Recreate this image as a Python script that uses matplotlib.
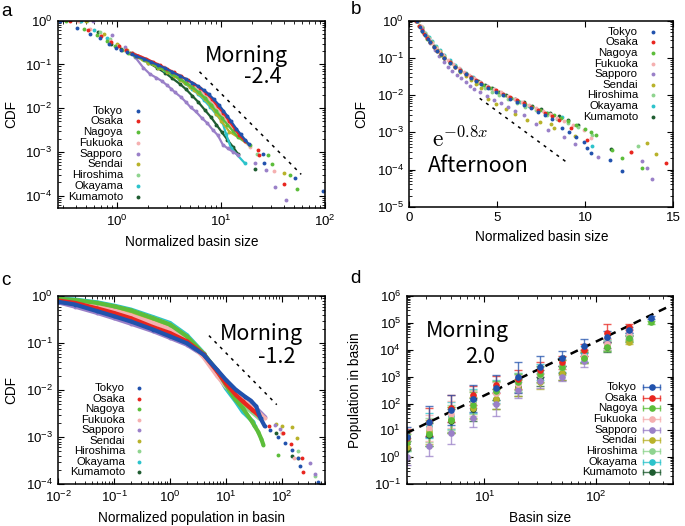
import numpy as np
import matplotlib
matplotlib.use('Agg')
import matplotlib.pyplot as plt
from matplotlib.colors import to_rgba
from matplotlib.ticker import LogLocator, NullFormatter

plt.rcParams['font.family'] = ['Liberation Sans', 'DejaVu Sans']
plt.rcParams['axes.linewidth'] = 1.1

cities = ['Tokyo', 'Osaka', 'Nagoya', 'Fukuoka', 'Sapporo', 'Sendai',
          'Hiroshima', 'Okayama', 'Kumamoto']
colors = ['#2152ad', '#e8261f', '#5cbd3a', '#f5b0b0', '#9a80c8', '#b8b22a',
          '#8fd48f', '#2cc3cb', '#1e5c30']

# ---- panel a : CDF of normalized basin size (morning) ----
tokyo_a_x = [0.28, 0.41, 0.55, 0.69, 0.83, 0.97, 1.1, 1.24, 1.38, 1.52, 1.8, 2.1, 2.5, 2.9, 3.4, 4.0, 4.6, 5.3, 6.0, 6.8, 7.6, 8.5, 9.5, 10.5, 11.5, 12.5, 14.0, 15.5, 17.0, 18.5, 25.3, 25.6, 51.0, 95.0]
tokyo_a_y = [1.0, 0.67, 0.50, 0.40, 0.30, 0.24, 0.21, 0.19, 0.17, 0.155, 0.135, 0.115, 0.096, 0.082, 0.067, 0.055, 0.046, 0.038, 0.032, 0.026, 0.021, 0.016, 0.012, 0.0088, 0.0066, 0.005, 0.0034, 0.0025, 0.0019, 0.0015, 8.9e-4, 5.6e-4, 2.5e-4, 1.26e-4]
osaka_a_x = [0.35, 0.53, 0.70, 0.88, 1.05, 1.23, 1.4, 1.6, 1.9, 2.2, 2.6, 3.0, 3.5, 4.1, 4.8, 5.5, 6.3, 7.2, 8.2, 9.3, 10.5, 12.0, 13.5, 15.0, 16.8, 22.6, 23.1, 40.1]
osaka_a_y = [1.0, 0.61, 0.44, 0.33, 0.26, 0.21, 0.18, 0.16, 0.135, 0.115, 0.095, 0.08, 0.066, 0.054, 0.044, 0.036, 0.029, 0.022, 0.016, 0.011, 0.0078, 0.005, 0.0034, 0.0024, 0.0018, 1.12e-3, 8.6e-4, 1.8e-4]
nagoya_a_x = [0.32, 0.48, 0.64, 0.80, 0.96, 1.12, 1.28, 1.5, 1.8, 2.1, 2.5, 2.9, 3.4, 4.0, 4.6, 5.3, 6.1, 7.0, 8.0, 9.0, 10.2, 11.5, 13.0, 14.5, 18.8, 28.3, 31.0, 46.5, 53.2]
nagoya_a_y = [1.0, 0.65, 0.47, 0.34, 0.26, 0.21, 0.18, 0.155, 0.128, 0.107, 0.088, 0.073, 0.059, 0.047, 0.038, 0.030, 0.023, 0.017, 0.012, 0.0085, 0.006, 0.0042, 0.003, 0.0022, 1.45e-3, 8.6e-4, 5.3e-4, 2.9e-4, 1.4e-4]
fukuoka_a_x = [0.42, 0.55, 0.70, 0.85, 1.0, 1.2, 1.4, 1.7, 2.0, 2.4, 2.8, 3.3, 3.9, 4.5, 5.2, 6.0, 6.9, 7.9, 9.0, 10.2, 11.5, 13.0, 15.0, 19.0, 32.0]
fukuoka_a_y = [1.0, 0.63, 0.45, 0.34, 0.27, 0.215, 0.18, 0.15, 0.125, 0.102, 0.086, 0.07, 0.057, 0.046, 0.037, 0.029, 0.022, 0.016, 0.011, 0.0075, 0.005, 0.0033, 0.0022, 1.3e-3, 3.7e-4]
sapporo_a_x = [0.59, 0.89, 1.18, 1.48, 1.78, 2.07, 2.37, 2.68, 3.0, 3.3, 3.6, 4.1, 4.6, 5.1, 5.7, 6.5, 7.4, 8.3, 9.3, 10.4, 11.6, 13.0, 14.5, 21.0, 27.2, 32.7, 42.5]
sapporo_a_y = [1.0, 0.47, 0.25, 0.15, 0.085, 0.06, 0.05, 0.042, 0.034, 0.028, 0.023, 0.018, 0.0137, 0.0104, 0.0084, 0.006, 0.0045, 0.0032, 0.0024, 0.00145, 0.0012, 0.001, 8.6e-4, 5.6e-4, 3.9e-4, 1.6e-4, 8.1e-5]
sendai_a_x = [0.50, 0.75, 1.0, 1.25, 1.5, 1.75, 2.0, 2.5, 3.0, 3.5, 4.0, 4.5, 5.0, 5.5, 6.0, 7.0, 8.0, 9.0, 10.0, 12.0, 16.8, 40.1]
sendai_a_y = [1.0, 0.5, 0.29, 0.21, 0.16, 0.13, 0.11, 0.085, 0.068, 0.055, 0.045, 0.037, 0.031, 0.026, 0.022, 0.016, 0.011, 0.0075, 0.0052, 0.0029, 1.74e-3, 3.2e-4]
hiroshima_a_x = [0.51, 0.68, 0.85, 1.02, 1.2, 1.4, 1.65, 1.9, 2.2, 2.6, 3.0, 3.5, 4.0, 4.6, 5.3, 6.1, 7.0, 8.0, 9.2, 10.5, 12.0, 14.0, 16.0, 22.0]
hiroshima_a_y = [1.0, 0.55, 0.38, 0.28, 0.22, 0.18, 0.15, 0.128, 0.108, 0.09, 0.074, 0.061, 0.05, 0.04, 0.032, 0.025, 0.019, 0.014, 0.0098, 0.0068, 0.0046, 0.003, 0.002, 9e-4]
okayama_a_x = [0.45, 0.6, 0.8, 1.0, 1.2, 1.45, 1.7, 2.0, 2.4, 2.8, 3.3, 3.9, 4.5, 5.2, 6.0, 6.9, 7.9, 9.0, 10.3, 11.2, 12.5, 16.8]
okayama_a_y = [1.0, 0.6, 0.4, 0.27, 0.21, 0.17, 0.14, 0.115, 0.093, 0.076, 0.06, 0.047, 0.037, 0.028, 0.021, 0.015, 0.0105, 0.0072, 0.0048, 0.0025, 0.0012, 5.6e-4]
kumamoto_a_x = [0.44, 0.66, 0.88, 1.1, 1.32, 1.54, 1.76, 2.0, 2.4, 2.9, 3.4, 4.0, 4.6, 5.3, 6.0, 7.0, 8.0, 9.0, 10.2, 11.5, 13.0, 14.5, 21.0]
kumamoto_a_y = [1.0, 0.56, 0.3, 0.22, 0.18, 0.15, 0.13, 0.11, 0.085, 0.064, 0.048, 0.036, 0.027, 0.019, 0.014, 0.009, 0.0062, 0.0042, 0.0028, 0.0019, 0.0013, 9e-4, 4.1e-4]
guide_a_x = [6.2, 59.0]
guide_a_y = [0.068, 3.05e-4]

# ---- panel b : CDF of normalized basin size (afternoon) ----
tokyo_b_x = [0.45, 0.6, 0.75, 0.9, 1.05, 1.2, 1.4, 1.6, 1.8, 2.0, 2.3, 2.6, 2.9, 3.2, 3.5, 3.8, 4.1, 4.5, 4.9, 5.3, 5.7, 6.1, 6.5, 6.9, 7.3, 7.7, 8.1, 8.7, 9.1, 9.5, 9.94, 10.1, 10.3, 11.4, 12.1]
tokyo_b_y = [1.0, 0.68, 0.52, 0.41, 0.32, 0.26, 0.2, 0.155, 0.124, 0.099, 0.075, 0.057, 0.045, 0.036, 0.029, 0.024, 0.02, 0.0158, 0.0125, 0.01, 0.0081, 0.0066, 0.0054, 0.0044, 0.0036, 0.0029, 0.0023, 0.0013, 0.00104, 7.5e-4, 5.6e-4, 3.7e-4, 2.7e-4, 1.8e-4, 9e-5]
osaka_b_x = [0.4, 0.55, 0.7, 0.85, 1.0, 1.2, 1.4, 1.6, 1.8, 2.0, 2.3, 2.6, 2.9, 3.2, 3.5, 3.8, 4.1, 4.5, 4.9, 5.3, 5.7, 6.1, 6.5, 6.9, 7.3, 7.7, 8.1, 8.5, 9.2, 10.1, 12.6, 14.6]
osaka_b_y = [1.0, 0.72, 0.55, 0.43, 0.34, 0.26, 0.2, 0.155, 0.125, 0.1, 0.076, 0.058, 0.046, 0.037, 0.03, 0.025, 0.021, 0.017, 0.0135, 0.011, 0.0088, 0.0073, 0.006, 0.0048, 0.0041, 0.0033, 0.0027, 0.0022, 0.0013, 6.3e-4, 3.0e-4, 1.5e-4]
nagoya_b_x = [0.42, 0.57, 0.72, 0.87, 1.02, 1.2, 1.4, 1.6, 1.8, 2.0, 2.3, 2.6, 2.9, 3.2, 3.5, 3.8, 4.2, 4.6, 5.0, 5.4, 5.8, 6.2, 6.6, 7.0, 7.4, 7.8, 8.2, 8.6, 9.0, 9.5, 10.0, 10.3, 10.6, 11.5, 12.1, 13.25]
nagoya_b_y = [1.0, 0.7, 0.54, 0.42, 0.33, 0.26, 0.2, 0.154, 0.123, 0.099, 0.075, 0.057, 0.045, 0.036, 0.029, 0.024, 0.019, 0.0155, 0.0125, 0.0102, 0.0084, 0.007, 0.0058, 0.0048, 0.004, 0.0034, 0.0029, 0.0024, 0.002, 0.0016, 0.00125, 0.001, 8.5e-4, 3.4e-4, 2.1e-4, 1.07e-4]
fukuoka_b_x = [0.5, 0.65, 0.8, 0.95, 1.1, 1.3, 1.5, 1.7, 1.9, 2.2, 2.5, 2.8, 3.1, 3.4, 3.7, 4.0, 4.4, 4.8, 5.2, 5.6, 6.0, 6.4, 6.8, 7.2, 7.6, 8.0, 8.4, 8.8, 9.3, 9.9, 10.3, 12.6]
fukuoka_b_y = [1.0, 0.7, 0.53, 0.42, 0.33, 0.25, 0.19, 0.15, 0.12, 0.088, 0.067, 0.052, 0.042, 0.034, 0.028, 0.023, 0.018, 0.0145, 0.0118, 0.0096, 0.008, 0.0066, 0.0055, 0.0046, 0.0038, 0.0031, 0.0025, 0.002, 0.0016, 0.00115, 7e-4, 3e-4]
sapporo_b_x = [0.45, 0.7, 0.95, 1.2, 1.45, 1.7, 1.95, 2.2, 2.45, 2.7, 2.95, 3.2, 3.45, 3.7, 4.0, 4.4, 4.8, 5.2, 5.6, 6.0, 6.5, 7.2, 7.87, 8.8, 9.4, 10.7, 13.2, 13.5, 13.8]
sapporo_b_y = [1.0, 0.6, 0.38, 0.25, 0.16, 0.11, 0.08, 0.058, 0.045, 0.035, 0.028, 0.022, 0.018, 0.015, 0.012, 0.0095, 0.0075, 0.006, 0.0048, 0.0038, 0.003, 0.0017, 0.00115, 7.6e-4, 5e-4, 2.2e-4, 1.7e-4, 1.1e-4, 5.5e-5]
sendai_b_x = [0.5, 0.75, 1.0, 1.25, 1.5, 1.75, 2.0, 2.3, 2.6, 2.9, 3.2, 3.5, 3.8, 4.1, 4.5, 4.94, 5.5, 6.0, 6.7, 7.4, 8.06, 8.25, 9.4, 13.5, 14.0]
sendai_b_y = [1.0, 0.62, 0.4, 0.27, 0.19, 0.14, 0.105, 0.077, 0.057, 0.043, 0.033, 0.026, 0.02, 0.0155, 0.0078, 0.0056, 0.0042, 0.0031, 0.0022, 0.0019, 0.0017, 0.0013, 8e-4, 5.2e-4, 2.6e-4]
hiroshima_b_x = [0.5, 0.7, 0.9, 1.1, 1.3, 1.5, 1.75, 2.0, 2.3, 2.6, 2.9, 3.2, 3.5, 3.9, 4.3, 4.7, 5.1, 5.6, 6.1, 6.6, 7.2, 7.8, 8.4, 9.0, 9.6, 10.4, 13.0]
hiroshima_b_y = [1.0, 0.66, 0.47, 0.35, 0.27, 0.2, 0.15, 0.11, 0.08, 0.06, 0.046, 0.036, 0.028, 0.021, 0.016, 0.0125, 0.01, 0.0078, 0.0062, 0.0049, 0.0039, 0.003, 0.0023, 0.0018, 0.0014, 8.5e-4, 4.3e-4]
okayama_b_x = [0.5, 0.7, 0.9, 1.1, 1.3, 1.5, 1.75, 2.0, 2.3, 2.6, 2.9, 3.2, 3.6, 4.0, 4.4, 4.8, 5.3, 5.8, 6.3, 6.8, 7.3, 7.8, 8.7, 10.4]
okayama_b_y = [1.0, 0.68, 0.48, 0.36, 0.28, 0.21, 0.16, 0.12, 0.088, 0.066, 0.051, 0.04, 0.03, 0.023, 0.018, 0.0145, 0.011, 0.0085, 0.0066, 0.0052, 0.0041, 0.0033, 0.0026, 4.3e-4]
kumamoto_b_x = [0.4, 0.6, 0.8, 1.0, 1.2, 1.4, 1.6, 1.8, 2.0, 2.3, 2.6, 2.9, 3.2, 3.5, 3.9, 4.3, 4.7, 5.1, 5.5, 6.0, 6.5, 7.0, 7.5, 8.0, 8.5, 9.0, 9.6, 11.45]
kumamoto_b_y = [1.0, 0.7, 0.5, 0.36, 0.27, 0.21, 0.16, 0.128, 0.102, 0.077, 0.059, 0.047, 0.037, 0.03, 0.024, 0.019, 0.0155, 0.0125, 0.0102, 0.008, 0.0064, 0.0052, 0.0042, 0.0034, 0.0028, 0.0022, 0.0016, 3.5e-4]
guide_b_x = [4.0, 9.0]
guide_b_y = [0.0082, 1.5e-4]

# ---- panel c : CDF of normalized population in basin ----
tokyo_c_x = [0.01, 0.02, 0.05, 0.1, 0.2, 0.5, 1.0, 2.0, 4.0, 7.0, 10.0, 15.0, 22.0, 28.0, 35.0, 42.0, 50.0, 61.5, 87.0, 115.0, 152.0, 200.0, 214.0, 456.0]
tokyo_c_y = [0.76, 0.665, 0.48, 0.375, 0.29, 0.195, 0.14, 0.1, 0.057, 0.027, 0.0167, 0.0103, 0.0073, 0.006, 0.0045, 0.0025, 0.0017, 0.0014, 0.001, 7.4e-4, 5.3e-4, 3.5e-4, 2.4e-4, 1.1e-4]
osaka_c_x = [0.01, 0.02, 0.05, 0.1, 0.2, 0.5, 1.0, 2.0, 4.0, 7.0, 10.0, 15.0, 20.0, 30.0, 40.0, 60.0, 107.0, 150.0, 230.0, 245.0]
osaka_c_y = [0.81, 0.72, 0.55, 0.44, 0.34, 0.22, 0.165, 0.11, 0.058, 0.025, 0.014, 0.008, 0.0058, 0.0038, 0.0028, 0.0017, 0.0012, 7e-4, 3.6e-4, 1.8e-4]
nagoya_c_x = [0.01, 0.02, 0.05, 0.1, 0.2, 0.5, 1.0, 2.0, 4.0, 7.0, 10.0, 14.6, 20.0, 29.0, 38.0, 43.5, 47.0, 87.0]
nagoya_c_y = [0.88, 0.83, 0.72, 0.61, 0.5, 0.34, 0.25, 0.14, 0.06, 0.026, 0.013, 0.0065, 0.0042, 0.0022, 0.0013, 9e-4, 6.9e-4, 4.2e-4]
fukuoka_c_x = [0.01, 0.02, 0.05, 0.1, 0.2, 0.5, 1.0, 2.0, 4.0, 7.0, 10.0, 15.0, 20.0, 30.0, 50.0, 100.0, 170.0]
fukuoka_c_y = [0.85, 0.76, 0.61, 0.5, 0.39, 0.27, 0.2, 0.12, 0.05, 0.02, 0.012, 0.0085, 0.0065, 0.0045, 0.0025, 0.0012, 3.6e-4]
sapporo_c_x = [0.01, 0.02, 0.05, 0.1, 0.2, 0.5, 1.0, 2.0, 4.0, 7.0, 10.0, 15.0, 20.0, 30.0, 50.0, 76.0, 93.0, 320.0, 400.0]
sapporo_c_y = [0.74, 0.6, 0.44, 0.34, 0.26, 0.18, 0.13, 0.093, 0.055, 0.027, 0.0155, 0.0098, 0.0075, 0.005, 0.0027, 0.0018, 0.0015, 2.8e-4, 1.6e-4]
sendai_c_x = [0.01, 0.02, 0.05, 0.1, 0.2, 0.5, 1.0, 2.0, 4.0, 10.0, 20.0, 40.0, 80.0, 100.0, 152.0, 187.0, 200.0]
sendai_c_y = [0.86, 0.78, 0.66, 0.58, 0.47, 0.32, 0.24, 0.13, 0.058, 0.013, 0.0055, 0.003, 0.0019, 0.0017, 0.0016, 9.5e-4, 3.6e-4]
hiroshima_c_x = [0.01, 0.02, 0.05, 0.1, 0.2, 0.5, 1.0, 2.0, 4.0, 10.0, 20.0, 40.0, 100.0, 200.0, 400.0]
hiroshima_c_y = [0.87, 0.81, 0.7, 0.6, 0.49, 0.34, 0.25, 0.14, 0.06, 0.012, 0.005, 0.0025, 0.0012, 5e-4, 1.5e-4]
okayama_c_x = [0.01, 0.02, 0.05, 0.1, 0.2, 0.5, 1.0, 2.0, 4.0, 7.0, 10.0, 15.0, 20.0, 31.0, 33.0]
okayama_c_y = [0.9, 0.85, 0.74, 0.63, 0.52, 0.36, 0.27, 0.15, 0.062, 0.023, 0.011, 0.0058, 0.0035, 0.0021, 0.0017]
kumamoto_c_x = [0.01, 0.02, 0.05, 0.1, 0.2, 0.5, 1.0, 2.0, 4.0, 10.0, 20.0, 40.0, 80.0, 152.0]
kumamoto_c_y = [0.84, 0.76, 0.64, 0.55, 0.44, 0.3, 0.22, 0.125, 0.057, 0.013, 0.006, 0.003, 0.0012, 4e-4]
guide_c_x = [5.0, 82.0]
guide_c_y = [0.145, 0.0049]

# ---- panel d : population vs basin size (y value and spread factor) ----
size_d = [2.0, 3.16, 5.01, 7.94, 12.6, 20.0, 31.6, 50.1, 79.4, 126.0, 200.0, 316.0]
tokyo_d_y = [5.5, 21, 58, 150, 390, 950, 2350, 4800, 14000, 31000, 55000, 160000]
tokyo_d_f = [2.5, 3.7, 3.6, 3.2, 2.9, 3.8, 2.5, 1.9, 1.8, 1.6, 1.3, 1.15]
osaka_d_y = [5.0, 20, 66, 200, 500, 800, 1800, 3400, 10000, 42000, 70000]
osaka_d_f = [2.2, 3.3, 3.2, 2.3, 2.1, 2.2, 1.9, 1.8, 1.7, 2.2, 1.3]
nagoya_d_y = [3.6, 7.5, 25, 90, 300, 650, 1300, 2400, 5000, 12500, 27000, 107000]
nagoya_d_f = [2.0, 2.8, 3.0, 3.0, 2.3, 2.0, 2.0, 1.8, 1.6, 1.4, 1.3, 1.15]
fukuoka_d_y = [4.0, 12, 40, 100, 250, 550, 1300, 2500, 6000, 16000, 35000]
fukuoka_d_f = [2.2, 3.0, 3.2, 3.0, 2.6, 2.2, 2.0, 1.9, 1.8, 1.6, 1.3]
sapporo_d_y = [1.05, 2.6, 8.0, 30, 95, 330, 700, 950, 3800, 18000, 45000]
sapporo_d_f = [2.0, 2.3, 2.6, 2.2, 2.8, 2.0, 1.9, 1.4, 1.6, 1.5, 1.3]
sendai_d_y = [2.3, 8.5, 24, 70, 150, 380, 650, 1400, 5000, 17000, 20000]
sendai_d_f = [2.2, 2.8, 3.0, 2.6, 2.4, 2.0, 1.9, 1.8, 1.6, 1.5, 1.2]
hiroshima_d_y = [4.0, 10, 30, 110, 250, 600, 1200, 2200, 5500, 14000, 26000]
hiroshima_d_f = [2.3, 2.8, 3.0, 2.8, 2.6, 2.2, 2.0, 1.9, 1.7, 1.5, 1.3]
okayama_d_y = [4.2, 15, 35, 120, 280, 600, 1500, 2800, 7000, 15000, 33000]
okayama_d_f = [2.4, 3.0, 3.2, 2.8, 2.6, 2.2, 2.0, 1.9, 2.0, 1.5, 1.3]
kumamoto_d_y = [2.0, 7.0, 22, 60, 150, 400, 900, 1400, 5900, 13000, 25000]
kumamoto_d_f = [2.0, 2.6, 2.8, 2.6, 2.4, 2.1, 2.0, 1.8, 1.7, 1.5, 1.3]
guide_d_x = [2.0, 500.0]
guide_d_y = [8.0, 5.0e5]

a_sets = [(tokyo_a_x, tokyo_a_y), (osaka_a_x, osaka_a_y), (nagoya_a_x, nagoya_a_y),
          (fukuoka_a_x, fukuoka_a_y), (sapporo_a_x, sapporo_a_y), (sendai_a_x, sendai_a_y),
          (hiroshima_a_x, hiroshima_a_y), (okayama_a_x, okayama_a_y), (kumamoto_a_x, kumamoto_a_y)]
b_sets = [(tokyo_b_x, tokyo_b_y), (osaka_b_x, osaka_b_y), (nagoya_b_x, nagoya_b_y),
          (fukuoka_b_x, fukuoka_b_y), (sapporo_b_x, sapporo_b_y), (sendai_b_x, sendai_b_y),
          (hiroshima_b_x, hiroshima_b_y), (okayama_b_x, okayama_b_y), (kumamoto_b_x, kumamoto_b_y)]
c_sets = [(tokyo_c_x, tokyo_c_y), (osaka_c_x, osaka_c_y), (nagoya_c_x, nagoya_c_y),
          (fukuoka_c_x, fukuoka_c_y), (sapporo_c_x, sapporo_c_y), (sendai_c_x, sendai_c_y),
          (hiroshima_c_x, hiroshima_c_y), (okayama_c_x, okayama_c_y), (kumamoto_c_x, kumamoto_c_y)]
d_sets = [(tokyo_d_y, tokyo_d_f), (osaka_d_y, osaka_d_f), (nagoya_d_y, nagoya_d_f),
          (fukuoka_d_y, fukuoka_d_f), (sapporo_d_y, sapporo_d_f), (sendai_d_y, sendai_d_f),
          (hiroshima_d_y, hiroshima_d_f), (okayama_d_y, okayama_d_f), (kumamoto_d_y, kumamoto_d_f)]

TICK_FS = 9.5
LAB_FS = 9.8
KEY_FS = 8.2
ANN_FONT = ['Noto Sans CJK JP', 'DejaVu Sans']


def style_axes(ax, logx=True, logy=True):
    ax.tick_params(which='both', direction='in', top=True, right=True,
                   labelsize=TICK_FS, pad=4)
    ax.tick_params(which='major', length=4, width=0.8)
    ax.tick_params(which='minor', length=2, width=0.6)
    if logy:
        ax.yaxis.set_major_locator(LogLocator(base=10, numticks=15))
        ax.yaxis.set_minor_locator(LogLocator(base=10, subs=np.arange(2, 10), numticks=15))
        ax.yaxis.set_minor_formatter(NullFormatter())
    if logx:
        ax.xaxis.set_major_locator(LogLocator(base=10, numticks=15))
        ax.xaxis.set_minor_locator(LogLocator(base=10, subs=np.arange(2, 10), numticks=15))
        ax.xaxis.set_minor_formatter(NullFormatter())


def city_key(ax, x_text, x_mark, y_top, dy, bars=False):
    for i, (name, col) in enumerate(zip(cities, colors)):
        yy = y_top - i * dy
        ax.text(x_text, yy, name, transform=ax.transAxes, ha='right', va='center',
                fontsize=KEY_FS)
        if bars:
            w = 0.032
            ax.plot([x_mark - w, x_mark + w], [yy, yy], transform=ax.transAxes,
                    color=to_rgba(col, 0.8), lw=1)
            ax.plot([x_mark - w, x_mark + w], [yy, yy], ls='none', marker='|', ms=5,
                    mew=1, color=to_rgba(col, 0.8), transform=ax.transAxes)
            ax.plot([x_mark], [yy], 'o', ms=4.8, color=col, mec='none',
                    transform=ax.transAxes)
        else:
            ax.plot([x_mark], [yy], 'o', ms=2.8, color=col, mec='none',
                    transform=ax.transAxes)


fig = plt.figure(figsize=(6.85, 5.26), dpi=100)
ax_a = fig.add_axes([0.0847, 0.6046, 0.3898, 0.356])
ax_b = fig.add_axes([0.5975, 0.607, 0.3854, 0.3536])
ax_c = fig.add_axes([0.0851, 0.0798, 0.3894, 0.357])
ax_d = fig.add_axes([0.5937, 0.0798, 0.3892, 0.357])

# panel a
ax = ax_a
ax.set_xscale('log')
ax.set_yscale('log')
for (x, y), col in reversed(list(zip(a_sets, colors))):
    x = np.array(x)
    y = np.array(y)
    dense = (x >= 1.3) & (x <= 19)
    ax.plot(x[dense], y[dense], '-', lw=1.6, color=col, solid_capstyle='round')
    ax.plot(x, y, 'o', ms=2.8, color=col, mec='none')
ax.plot(guide_a_x, guide_a_y, color='black', lw=1.1, ls=(0, (2.0, 3.2)))
ax.set_xlim(0.27, 100)
ax.set_ylim(5.2e-5, 1)
style_axes(ax)
ax.set_xlabel('Normalized basin size', fontsize=LAB_FS)
ax.set_ylabel('CDF', fontsize=LAB_FS)
ax.xaxis.set_label_coords(0.5, -0.144)
ax.yaxis.set_label_coords(-0.15, 0.5)
ax.text(0.704, 0.81, 'Morning', transform=ax.transAxes, ha='center', va='center',
        fontsize=15.5, family=ANN_FONT)
ax.text(0.766, 0.702, '-2.4', transform=ax.transAxes, ha='center', va='center',
        fontsize=15.5, family=ANN_FONT)
city_key(ax, 0.243, 0.2985, 0.5195, 0.0574)

# panel b
ax = ax_b
ax.set_yscale('log')
for (x, y), col in reversed(list(zip(b_sets, colors))):
    ax.plot(x, y, 'o', ms=2.8, color=col, mec='none')
ax.plot(guide_b_x, guide_b_y, color='black', lw=1.1, ls=(0, (2.0, 3.2)))
ax.set_xlim(0, 15)
ax.set_ylim(1e-5, 1)
ax.set_xticks([0, 5, 10, 15])
style_axes(ax, logx=False)
ax.set_xlabel('Normalized basin size', fontsize=LAB_FS)
ax.set_ylabel('CDF', fontsize=LAB_FS)
ax.xaxis.set_label_coords(0.5, -0.125)
ax.yaxis.set_label_coords(-0.156, 0.5)
ax.text(0.192, 0.361, r'$\mathrm{e}^{-0.8x}$', transform=ax.transAxes, ha='center',
        va='center', fontsize=17, math_fontfamily='cm')
ax.text(0.26, 0.219, 'Afternoon', transform=ax.transAxes, ha='center', va='center',
        fontsize=15.5, family=ANN_FONT)
city_key(ax, 0.866, 0.924, 0.941, 0.0571)

# panel c
ax = ax_c
ax.set_xscale('log')
ax.set_yscale('log')
for (x, y), col in reversed(list(zip(c_sets, colors))):
    x = np.array(x)
    y = np.array(y)
    dense = x <= 50
    ax.plot(x[dense], y[dense], '-', lw=3.0, color=col, solid_capstyle='round')
    ax.plot(x, y, 'o', ms=2.8, color=col, mec='none')
ax.plot(guide_c_x, guide_c_y, color='black', lw=1.1, ls=(0, (2.0, 3.2)))
ax.set_xlim(0.01, 600)
ax.set_ylim(1e-4, 1)
style_axes(ax)
ax.set_xlabel('Normalized population in basin', fontsize=LAB_FS)
ax.set_ylabel('CDF', fontsize=LAB_FS)
ax.xaxis.set_label_coords(0.5, -0.144)
ax.yaxis.set_label_coords(-0.151, 0.5)
ax.text(0.76, 0.799, 'Morning', transform=ax.transAxes, ha='center', va='center',
        fontsize=15.5, family=ANN_FONT)
ax.text(0.818, 0.679, '-1.2', transform=ax.transAxes, ha='center', va='center',
        fontsize=15.5, family=ANN_FONT)
city_key(ax, 0.25, 0.3026, 0.511, 0.0561)

# panel d
ax = ax_d
ax.set_xscale('log')
ax.set_yscale('log')
for (y, f), col in reversed(list(zip(d_sets, colors))):
    y = np.array(y, dtype=float)
    f = np.array(f, dtype=float)
    x = np.array(size_d[:len(y)])
    ax.errorbar(x, y, yerr=[y - y / f, y * f - y], fmt='o', ms=4.8, color=col,
                mec='none', ecolor=to_rgba(col, 0.75), elinewidth=1, capsize=2.6,
                capthick=1)
ax.plot(guide_d_x, guide_d_y, color='black', lw=1.8, ls=(0, (3.2, 2.4)))
ax.set_xlim(2, 500)
ax.set_ylim(0.1, 1e6)
style_axes(ax)
ax.set_xlabel('Basin size', fontsize=LAB_FS)
ax.set_ylabel('Population in basin', fontsize=LAB_FS)
ax.xaxis.set_label_coords(0.5, -0.144)
ax.yaxis.set_label_coords(-0.168, 0.5)
ax.text(0.228, 0.815, 'Morning', transform=ax.transAxes, ha='center', va='center',
        fontsize=15.5, family=ANN_FONT)
ax.text(0.277, 0.679, '2.0', transform=ax.transAxes, ha='center', va='center',
        fontsize=15.5, family=ANN_FONT)
city_key(ax, 0.864, 0.92, 0.517, 0.0569, bars=True)

# panel letters
for lab, xf, yf in [('a', 0.002, 0.995), ('b', 0.512, 0.998),
                    ('c', 0.002, 0.482), ('d', 0.512, 0.486)]:
    fig.text(xf, yf, lab, fontsize=13.5, ha='left', va='top')

fig.savefig('out.png', dpi=100)
